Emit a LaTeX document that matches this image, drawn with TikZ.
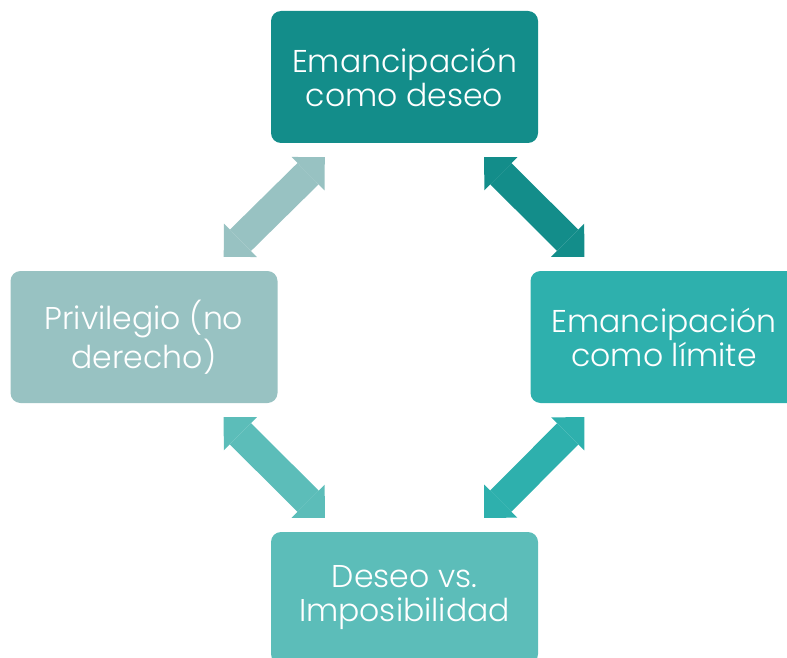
\documentclass[tikz,border=0pt]{standalone}
\usepackage{fontspec}
\setmainfont{Poppins}[UprightFont=* Light]
\usetikzlibrary{arrows.meta,calc}
\definecolor{deepteal}{HTML}{138D8A}
\definecolor{midteal}{HTML}{2EB0AD}
\definecolor{softteal}{HTML}{5CBDB9}
\definecolor{greyteal}{HTML}{98C2C2}
\begin{document}
\begin{tikzpicture}[x=1pt, y=-1pt]

      \tikzset{box/.style={rounded corners=10pt, inner sep=0pt, minimum width=267pt, minimum height=132pt, text=white, align=center, font=\fontsize{31.5}{34}\selectfont}}
      \tikzset{dblarrow/.style={line width=30pt, {Triangle[width=47pt, length=23.5pt, line width=0pt]}-{Triangle[width=47pt, length=23.5pt, line width=0pt]}}}
      \useasboundingbox (0,0) rectangle (787,658);
%% Boxes
      	\node[box, fill=deepteal] (deseo) at (404.5,77) {Emancipación\\como deseo};
      	\node[box, fill=greyteal] (privilegio) at (144,337) {Privilegio (no\\derecho)};
      	\node[box, fill=midteal] (limite) at (664,337) {Emancipación\\como límite};
      	\node[box, fill=softteal] (imposible) at (404.5,598) {Deseo vs.\\Imposibilidad};
%% Arrow ends
      	\coordinate (dp) at ($(deseo.south west)+(54,14)$);
      	\coordinate (pd) at ($(privilegio.north east)+(-54,-14)$);
      	\coordinate (dl) at ($(deseo.south east)+(-54,14)$);
      	\coordinate (ld) at ($(limite.north west)+(54,-14)$);
      	\coordinate (li) at ($(limite.south west)+(54,14)$);
      	\coordinate (il) at ($(imposible.north east)+(-54,-14)$);
      	\coordinate (pi) at ($(privilegio.south east)+(-54,14)$);
      	\coordinate (ip) at ($(imposible.north west)+(54,-14)$);
%Arrows
		\draw [dblarrow, greyteal] (dp) -- (pd);
		\draw [dblarrow, deepteal] (dl) -- (ld);
		\draw [dblarrow, midteal] (li) -- (il);
		\draw [dblarrow, softteal] (pi) -- (ip);

	\end{tikzpicture}
\end{document}
